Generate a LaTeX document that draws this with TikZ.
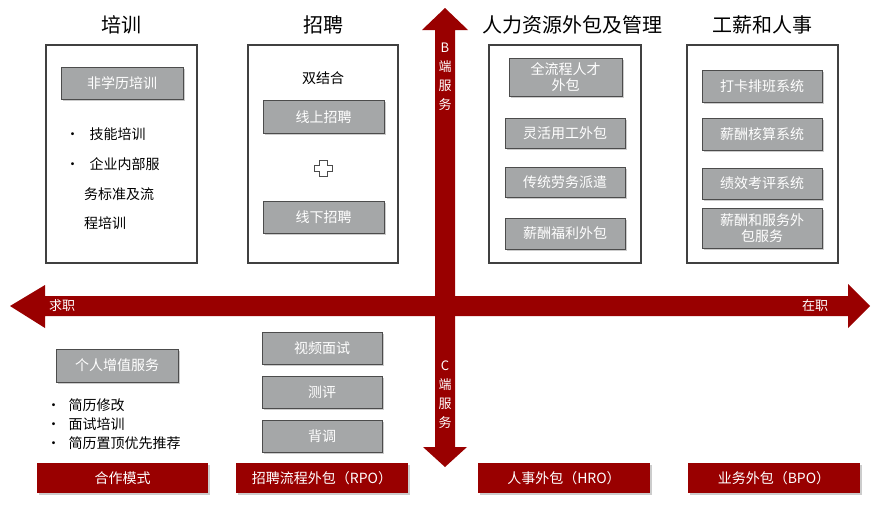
\documentclass[tikz,border=0pt]{standalone}
\usepackage{fontspec}
\setmainfont{Noto Sans CJK SC}
\usetikzlibrary{shadows}
\definecolor{dred}{HTML}{990000}
\definecolor{gbox}{HTML}{A5A7A8}
\tikzset{
 frame/.style={draw=black!75,line width=1.2pt,fill=white},
 gb/.style={draw=black!70,line width=0.8pt,fill=gbox,text=white,font=\fontsize{14}{15}\selectfont,align=center,drop shadow={shadow xshift=1.5pt,shadow yshift=-1.5pt,opacity=0.4}},
 rb/.style={fill=dred,text=white,font=\fontsize{14}{15}\selectfont,drop shadow={shadow xshift=1.5pt,shadow yshift=-1.5pt,opacity=0.4}},
 ttl/.style={font=\fontsize{20}{22}\selectfont},
 txt/.style={font=\fontsize{14}{16}\selectfont,anchor=west},
 atxt/.style={text=white,font=\fontsize{13}{14}\selectfont,inner sep=0pt}
}
\begin{document}
\begin{tikzpicture}[x=1pt,y=-1pt]
\useasboundingbox (0,0) rectangle (880,512);
% boxes
\node[frame,minimum width=151pt,minimum height=218pt] (f1) at (121.5,154) {};
\node[frame,minimum width=150pt,minimum height=218pt] (f2) at (323,154) {};
\node[frame,minimum width=152pt,minimum height=218pt] (f3) at (565,154) {};
\node[frame,minimum width=151pt,minimum height=218pt] (f4) at (762.5,154) {};
\node[ttl] (t1) at (121.5,25) {培训};
\node[ttl] (t2) at (323,25) {招聘};
\node[ttl] (t3) at (572,25) {人力资源外包及管理};
\node[ttl] (t4) at (762.5,25) {工薪和人事};
% arrows
\fill[dred] (10,306) -- (45,285) -- (45,296) -- (848,296) -- (848,284) -- (870,306) -- (848,328) -- (848,316) -- (45,316) -- (45,328) -- cycle;
\fill[dred] (445,8) -- (468,30) -- (455,30) -- (455,447) -- (467,447) -- (445,467) -- (423,447) -- (435,447) -- (435,30) -- (422,30) -- cycle;
\node[atxt] (b1) at (445,48) {B};
\node[atxt] (b2) at (445,67) {端};
\node[atxt] (b3) at (445,86) {服};
\node[atxt] (b4) at (445,105) {务};
\node[atxt] (c1) at (445,366) {C};
\node[atxt] (c2) at (445,385) {端};
\node[atxt] (c3) at (445,404) {服};
\node[atxt] (c4) at (445,423) {务};
\node[atxt] (qz) at (62,306) {求职};
\node[atxt] (zz) at (815,306) {在职};
% col1
\node[gb,minimum width=122pt,minimum height=32pt] (g1) at (122,83) {非学历培训};
\node[txt] (l1) at (62,134) {•\hspace{10pt}技能培训};
\node[txt] (l2) at (62,164) {•\hspace{10pt}企业内部服};
\node[txt] (l3) at (80.5,194) {务标准及流};
\node[txt] (l4) at (80.5,223) {程培训};
% col2
\node[font=\fontsize{14}{16}\selectfont] (sj) at (323,78) {双结合};
\node[gb,minimum width=121pt,minimum height=33pt] (g2) at (323.5,117) {线上招聘};
\draw[black!70,line width=0.8pt,fill=white] (319,160)--(327,160)--(327,165)--(332,165)--(332,171)--(327,171)--(327,176)--(319,176)--(319,171)--(314,171)--(314,165)--(319,165)--cycle;
\node[gb,minimum width=121pt,minimum height=32pt] (g3) at (323.5,217) {线下招聘};
% col3
\node[gb,minimum width=113pt,minimum height=38pt,font=\fontsize{14}{16}\selectfont] (h1) at (565.5,77) {全流程人才\\外包};
\node[gb,minimum width=120pt,minimum height=30pt] (h2) at (565,133) {灵活用工外包};
\node[gb,minimum width=120pt,minimum height=30pt] (h3) at (565,182) {传统劳务派遣};
\node[gb,minimum width=120pt,minimum height=31pt] (h4) at (565,233.5) {薪酬福利外包};
% col4
\node[gb,minimum width=120pt,minimum height=32pt] (w1) at (762,86) {打卡排班系统};
\node[gb,minimum width=120pt,minimum height=32pt] (w2) at (762,134) {薪酬核算系统};
\node[gb,minimum width=120pt,minimum height=31pt] (w3) at (762,183.5) {绩效考评系统};
\node[gb,minimum width=120pt,minimum height=40pt,font=\fontsize{14}{16}\selectfont] (w4) at (762,228) {薪酬和服务外\\包服务};
% bottom
\node[gb,minimum width=122pt,minimum height=33pt] (p1) at (117,365.5) {个人增值服务};
\node[txt] (pb1) at (43,405) {•\hspace{8pt}简历修改};
\node[txt] (pb2) at (43,424) {•\hspace{8pt}面试培训};
\node[txt] (pb3) at (43,443) {•\hspace{8pt}简历置顶优先推荐};
\node[gb,minimum width=120pt,minimum height=32pt] (r1) at (322,348) {视频面试};
\node[gb,minimum width=120pt,minimum height=32pt] (r2) at (322,392) {测评};
\node[gb,minimum width=120pt,minimum height=32pt] (r3) at (322,436) {背调};
\node[rb,minimum width=171pt,minimum height=30pt] (m1) at (122.5,478) {合作模式};
\node[rb,minimum width=172pt,minimum height=30pt] (m2) at (322,478) {招聘流程外包（RPO）};
\node[rb,minimum width=172pt,minimum height=30pt] (m3) at (564,478) {人事外包（HRO）};
\node[rb,minimum width=172pt,minimum height=30pt] (m4) at (774,478) {业务外包（BPO）};
\end{tikzpicture}
\end{document}
